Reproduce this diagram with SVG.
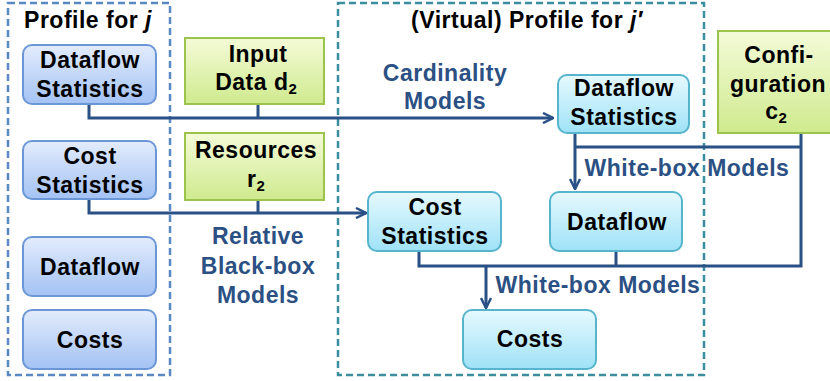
<svg xmlns="http://www.w3.org/2000/svg" width="830" height="381" viewBox="0 0 830 381">
<defs>
<linearGradient id="gBlue" x1="0" y1="0" x2="0" y2="1"><stop offset="0" stop-color="#e3ecfc"/><stop offset="1" stop-color="#a3c2f4"/></linearGradient>
<linearGradient id="gCyan" x1="0" y1="0" x2="0" y2="1"><stop offset="0" stop-color="#e6f9fe"/><stop offset="1" stop-color="#9fe2f7"/></linearGradient>
<linearGradient id="gGreen" x1="0" y1="0" x2="0" y2="1"><stop offset="0" stop-color="#f4fbd8"/><stop offset="1" stop-color="#cfea8e"/></linearGradient>
<marker id="arr" viewBox="0 0 12 12" refX="11" refY="6" markerWidth="12" markerHeight="12" markerUnits="userSpaceOnUse" orient="auto">
<path d="M1,1 L11,6 L1,11" fill="none" stroke="#2a5185" stroke-width="2.5"/>
</marker>
<style>
text{font-family:"Liberation Sans",Arial,sans-serif;font-weight:bold;font-size:23px;letter-spacing:0.5px;text-anchor:middle;fill:#000}
.lbl{fill:#2b5083}
.blue{fill:url(#gBlue);stroke:#6b97d6;stroke-width:2}
.cyan{fill:url(#gCyan);stroke:#56b5cc;stroke-width:2}
.green{fill:url(#gGreen);stroke:#9cc34c;stroke-width:2}
.con{fill:none;stroke:#2a5185;stroke-width:3}
.sub{font-size:15px;letter-spacing:0}
</style>
</defs>
<rect x="0" y="0" width="830" height="381" fill="#fff"/>

<g id="profile-j">
<rect x="8" y="3" width="162" height="372" fill="none" stroke="#5a88c2" stroke-width="2.5" stroke-dasharray="7,4"/>
<text x="88" y="28">Profile for <tspan font-style="italic">j</tspan></text>
</g>
<g id="profile-j2">
<rect x="338" y="3" width="366" height="372" fill="none" stroke="#3b8e9e" stroke-width="2.5" stroke-dasharray="7,4"/>
<text x="527" y="28">(Virtual) Profile for <tspan font-style="italic">j′</tspan></text>
</g>

<g id="connectors">
<path class="con" d="M89,104 V118 H553" marker-end="url(#arr)"/>
<path class="con" d="M258,104 V118"/>
<path class="con" d="M89,199 V213 H366" marker-end="url(#arr)"/>
<path class="con" d="M258,200 V213"/>
<path class="con" d="M575,133 V189" marker-end="url(#arr)"/>
<path class="con" d="M575,147 H801"/>
<path class="con" d="M801,133 V266 H419 V251"/>
<path class="con" d="M616,251 V266"/>
<path class="con" d="M486,266 V308" marker-end="url(#arr)"/>
</g>

<g id="label-cardinality"><text class="lbl" x="445" y="81">Cardinality</text><text class="lbl" x="445" y="109">Models</text></g>
<g id="label-whitebox1"><text class="lbl" x="687" y="176">White-box Models</text></g>
<g id="label-whitebox2"><text class="lbl" x="598" y="293">White-box Models</text></g>
<g id="label-blackbox"><text class="lbl" x="258" y="244">Relative</text><text class="lbl" x="258" y="274">Black-box</text><text class="lbl" x="258" y="303">Models</text></g>

<g id="j-dataflow-statistics"><rect class="blue" x="23" y="45" width="133" height="59" rx="9"/><text x="90" y="68">Dataflow</text><text x="90" y="97">Statistics</text></g>
<g id="j-cost-statistics"><rect class="blue" x="23" y="141" width="133" height="58" rx="9"/><text x="90" y="164">Cost</text><text x="90" y="193">Statistics</text></g>
<g id="j-dataflow"><rect class="blue" x="23" y="237" width="133" height="59" rx="9"/><text x="90" y="275">Dataflow</text></g>
<g id="j-costs"><rect class="blue" x="23" y="310" width="133" height="59" rx="9"/><text x="90" y="348">Costs</text></g>

<g id="input-data"><rect class="green" x="185" y="38" width="139" height="66"/><text x="258" y="62">Input</text><text x="256" y="90">Data d<tspan class="sub" dy="4">2</tspan></text></g>
<g id="resources"><rect class="green" x="185" y="133" width="139" height="67"/><text x="256" y="158">Resources</text><text x="256" y="187">r<tspan class="sub" dy="4">2</tspan></text></g>
<g id="configuration"><rect class="green" x="718" y="31" width="125" height="102"/><text x="779" y="63">Confi-</text><text x="778" y="92">guration</text><text x="776" y="119">c<tspan class="sub" dy="4">2</tspan></text></g>

<g id="j2-dataflow-statistics"><rect class="cyan" x="558" y="75" width="131" height="58" rx="9"/><text x="624" y="96">Dataflow</text><text x="624" y="125">Statistics</text></g>
<g id="j2-cost-statistics"><rect class="cyan" x="368" y="192" width="133" height="59" rx="9"/><text x="435" y="215">Cost</text><text x="435" y="244">Statistics</text></g>
<g id="j2-dataflow"><rect class="cyan" x="550" y="192" width="132" height="59" rx="9"/><text x="617" y="230">Dataflow</text></g>
<g id="j2-costs"><rect class="cyan" x="463" y="310" width="133" height="59" rx="9"/><text x="530" y="347">Costs</text></g>
</svg>
